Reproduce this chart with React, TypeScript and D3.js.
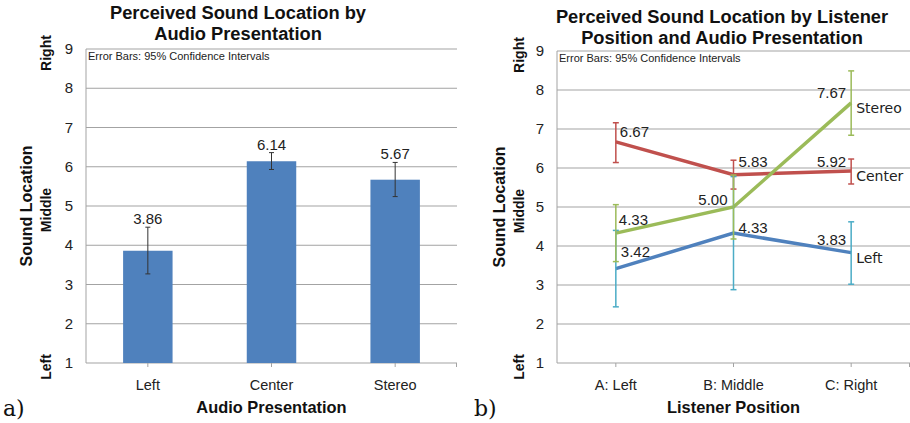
import { useEffect, useRef } from 'react';
import * as d3 from 'd3';

// panel a: mean perceived location per audio presentation
const barCategories = ['Left', 'Center', 'Stereo'];
const barMeans = [3.86, 6.14, 5.67];
const barCiLow = [3.27, 5.93, 5.24];
const barCiHigh = [4.46, 6.36, 6.11];

// panel b: per listener position
const positions = ['A: Left', 'B: Middle', 'C: Right'];
const leftMeans = [3.42, 4.33, 3.83];
const leftLow = [2.44, 2.88, 3.02];
const leftHigh = [4.40, 5.78, 4.62];
const centerMeans = [6.67, 5.83, 5.92];
const centerLow = [6.14, 5.46, 5.59];
const centerHigh = [7.16, 6.20, 6.23];
const stereoMeans = [4.33, 5.00, 7.67];
const stereoLow = [3.60, 4.18, 6.84];
const stereoHigh = [5.06, 5.82, 8.49];

const yTicks = [1, 2, 3, 4, 5, 6, 7, 8, 9];

const FONT = '"Liberation Sans", Arial, sans-serif';
const GRID = '#a3a3a3';

export default function App() {
  const svgRef = useRef<SVGSVGElement>(null);

  useEffect(() => {
    if (!svgRef.current) return;
    const svg = d3.select(svgRef.current);
    svg.selectAll('*').remove();
    svg.attr('width', 910).attr('height', 423);

    // shared frame: grid, y axis, titles
    const drawFrame = (
      x0: number, x1: number, y: d3.ScaleLinear<number, number>,
      titleX: number, titleLines: string[], titleY: number,
      xTitle: string, yTitleX: number, tickCenters: number[],
    ) => {
      const g = svg.append('g');
      g.selectAll('line.grid')
        .data(yTicks.slice(1))
        .join('line')
        .attr('x1', x0).attr('x2', x1)
        .attr('y1', d => y(d)).attr('y2', d => y(d))
        .attr('stroke', GRID).attr('stroke-width', 1);
      // axes
      g.append('line').attr('x1', x0).attr('x2', x0).attr('y1', y(9)).attr('y2', y(1))
        .attr('stroke', GRID);
      g.append('line').attr('x1', x0).attr('x2', x1).attr('y1', y(1)).attr('y2', y(1))
        .attr('stroke', GRID);
      g.selectAll('line.tick')
        .data([...tickCenters, x1 - 0.5])
        .join('line')
        .attr('x1', d => d).attr('x2', d => d)
        .attr('y1', y(1)).attr('y2', y(1) + 4)
        .attr('stroke', GRID);
      g.selectAll('text.ytick')
        .data(yTicks)
        .join('text')
        .attr('x', x0 - 13)
        .attr('y', d => y(d) + 5)
        .attr('text-anchor', 'end')
        .attr('font-family', FONT).attr('font-size', 15).attr('fill', '#222')
        .text(d => d);

      g.append('text')
        .attr('x', x0 + 2).attr('y', y(9) + 11)
        .attr('font-family', FONT).attr('font-size', 11).attr('fill', '#222')
        .text('Error Bars: 95% Confidence Intervals');

      titleLines.forEach((t, i) => {
        g.append('text')
          .attr('x', titleX).attr('y', titleY + i * 21)
          .attr('text-anchor', 'middle')
          .attr('font-family', FONT).attr('font-size', 18.3).attr('font-weight', 'bold')
          .attr('fill', '#111')
          .text(t);
      });

      g.append('text')
        .attr('x', (x0 + x1) / 2).attr('y', 413)
        .attr('text-anchor', 'middle')
        .attr('font-family', FONT).attr('font-size', 16.4).attr('font-weight', 'bold')
        .attr('fill', '#111')
        .text(xTitle);

      // y title with Left / Middle / Right anchors
      g.append('text')
        .attr('transform', `translate(${yTitleX},${y(5)}) rotate(-90)`)
        .attr('text-anchor', 'middle')
        .attr('font-family', FONT).attr('font-size', 16).attr('font-weight', 'bold')
        .attr('fill', '#111')
        .text('Sound Location');
      [[9, 'Right'], [5, 'Middle'], [1, 'Left']].forEach(([v, t]) => {
        g.append('text')
          .attr('transform', `translate(${yTitleX + 19},${y(v as number) + 4}) rotate(-90)`)
          .attr('text-anchor', 'middle')
          .attr('font-family', FONT).attr('font-size', 14).attr('font-weight', 'bold')
          .attr('fill', '#111')
          .text(t as string);
      });
      return g;
    };

    // ---------- panel a ----------
    const yA = d3.scaleLinear().domain([1, 9]).range([363, 49]);
    const xA = d3.scaleBand().domain(barCategories).range([86, 457])
      .paddingInner(0.6).paddingOuter(0.3);
    const centersA = barCategories.map(c => (xA(c) || 0) + xA.bandwidth() / 2);
    const gA = drawFrame(86, 457, yA, 238, ['Perceived Sound Location by', 'Audio Presentation'], 19,
      'Audio Presentation', 32, centersA);

    gA.selectAll('rect.bar')
      .data(barCategories)
      .join('rect')
      .attr('x', d => xA(d) || 0)
      .attr('y', (_, i) => yA(barMeans[i]))
      .attr('width', xA.bandwidth())
      .attr('height', (_, i) => yA(1) - yA(barMeans[i]))
      .attr('fill', '#4f81bd');

    barCategories.forEach((c, i) => {
      const cx = centersA[i];
      const eb = gA.append('g').attr('stroke', '#333').attr('stroke-width', 1);
      eb.append('line').attr('x1', cx).attr('x2', cx)
        .attr('y1', yA(barCiLow[i])).attr('y2', yA(barCiHigh[i]));
      [barCiLow[i], barCiHigh[i]].forEach(v => {
        eb.append('line').attr('x1', cx - 2.5).attr('x2', cx + 2.5)
          .attr('y1', yA(v)).attr('y2', yA(v));
      });
      gA.append('text')
        .attr('x', cx).attr('y', yA(barCiHigh[i]) - 3)
        .attr('text-anchor', 'middle')
        .attr('font-family', FONT).attr('font-size', 15).attr('fill', '#222')
        .text(barMeans[i].toFixed(2));
      gA.append('text')
        .attr('x', cx).attr('y', 390)
        .attr('text-anchor', 'middle')
        .attr('font-family', FONT).attr('font-size', 14.5).attr('fill', '#222')
        .text(c);
    });

    // ---------- panel b ----------
    const yB = d3.scaleLinear().domain([1, 9]).range([363, 51]);
    const xB = d3.scalePoint().domain(positions).range([557, 910]).padding(0.5);
    const centersB = positions.map(p => xB(p) || 0);
    const gB = drawFrame(557, 910, yB, 722, ['Perceived Sound Location by Listener', 'Position and Audio Presentation'], 23,
      'Listener Position', 505, centersB);

    positions.forEach(p => {
      gB.append('text')
        .attr('x', xB(p) || 0).attr('y', 390)
        .attr('text-anchor', 'middle')
        .attr('font-family', FONT).attr('font-size', 14.5).attr('fill', '#222')
        .text(p);
    });

    const series = [
      { name: 'Left', means: leftMeans, low: leftLow, high: leftHigh, line: '#4f81bd', bar: '#4bacc6' },
      { name: 'Center', means: centerMeans, low: centerLow, high: centerHigh, line: '#c0504d', bar: '#c0504d' },
      { name: 'Stereo', means: stereoMeans, low: stereoLow, high: stereoHigh, line: '#9bbb59', bar: '#9bbb59' },
    ];

    // value label placement: [dx, dy, anchor] per point
    const labelPlace: Record<string, [number, number, string][]> = {
      Left: [[5, -12, 'start'], [5, 0, 'start'], [-5, -8, 'end']],
      Center: [[4, -5, 'start'], [5, -8, 'start'], [-5, -4, 'end']],
      Stereo: [[3, -8, 'start'], [-6, -2, 'end'], [-5, -5, 'end']],
    };

    const line = d3.line<number>()
      .x((_, i) => centersB[i])
      .y(d => yB(d));

    series.forEach(s => {
      gB.append('path')
        .datum(s.means)
        .attr('d', line)
        .attr('fill', 'none')
        .attr('stroke', s.line)
        .attr('stroke-width', 3.5);
    });

    series.forEach(s => {
      const eb = gB.append('g').attr('stroke', s.bar).attr('stroke-width', 1.5);
      centersB.forEach((cx, i) => {
        eb.append('line').attr('x1', cx).attr('x2', cx)
          .attr('y1', yB(s.low[i])).attr('y2', yB(s.high[i]));
        [s.low[i], s.high[i]].forEach(v => {
          eb.append('line').attr('x1', cx - 3).attr('x2', cx + 3)
            .attr('y1', yB(v)).attr('y2', yB(v));
        });
      });
    });

    series.forEach(s => {
      s.means.forEach((v, i) => {
        const [dx, dy, anchor] = labelPlace[s.name][i];
        gB.append('text')
          .attr('x', centersB[i] + dx).attr('y', yB(v) + dy)
          .attr('text-anchor', anchor)
          .attr('font-family', FONT).attr('font-size', 15).attr('fill', '#222')
          .text(v.toFixed(2));
      });
      gB.append('text')
        .attr('x', centersB[2] + 5).attr('y', yB(s.means[2]) + 10)
        .attr('font-family', '"DejaVu Sans", Verdana, sans-serif').attr('font-size', 14)
        .attr('fill', '#222')
        .text(s.name);
    });

    // panel letters
    [['a)', 3], ['b)', 474]].forEach(([t, x]) => {
      svg.append('text')
        .attr('x', x as number).attr('y', 416)
        .attr('font-family', '"DejaVu Serif", "Liberation Serif", serif').attr('font-size', 22)
        .attr('fill', '#111')
        .text(t as string);
    });
  }, []);

  return (
    <svg
      ref={svgRef}
      style={{ position: 'absolute', left: 0, top: 0, background: '#fff' }}
    />
  );
}
